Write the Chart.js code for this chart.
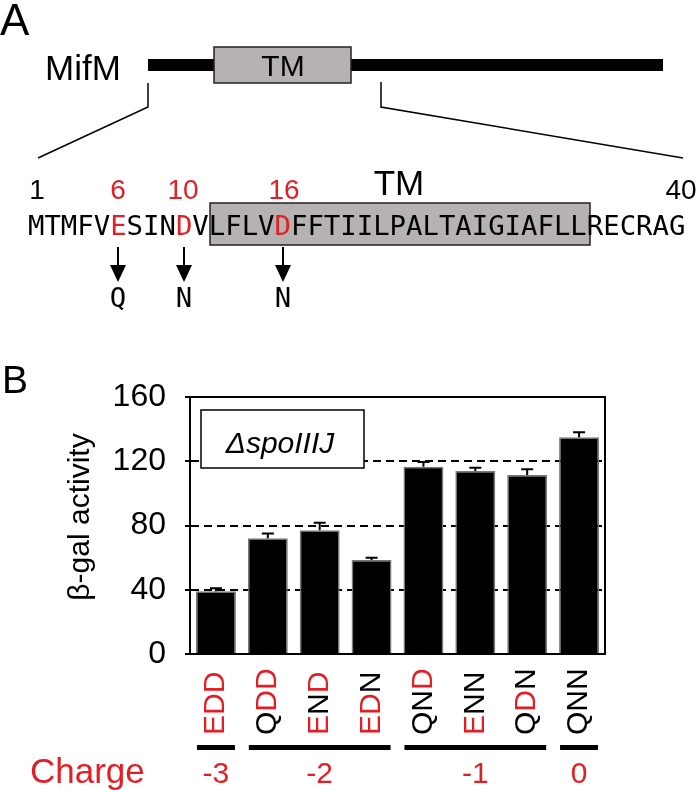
<!DOCTYPE html>
<html>
<head>
<meta charset="utf-8">
<script src="https://cdn.jsdelivr.net/npm/chart.js@4.4.1/dist/chart.umd.min.js"></script>
<style>
  body { margin: 0; background: #fff; }
  #wrap { position: relative; width: 700px; height: 790px; }
  #chart { position: absolute; left: 0; top: 0; }
  #panelA { position: absolute; left: 0; top: 0; pointer-events: none; }
  #panelA text { font-family: 'Liberation Sans', Arial, sans-serif; }
  #panelA .mono { font-family: 'DejaVu Sans Mono', monospace; }
</style>
</head>
<body>
<div id="wrap">
  <canvas id="chart" width="700" height="790"></canvas>
  <svg id="panelA" width="700" height="790" xmlns="http://www.w3.org/2000/svg">
    <text x="0" y="35" font-size="44">A</text>
    <text x="45" y="80" font-size="35">MifM</text>
    <rect x="148" y="59" width="515" height="12" fill="#000"/>
    <rect x="214" y="47" width="137" height="36" fill="#b6b2b2" stroke="#222" stroke-width="1.5"/>
    <text x="283" y="76" font-size="30" text-anchor="middle">TM</text>
    <polyline points="148,83 148,107 38,158" fill="none" stroke="#000" stroke-width="1.5"/>
    <polyline points="381,82 381,107 683,158" fill="none" stroke="#000" stroke-width="1.5"/>

    <text x="37" y="199" font-size="28" text-anchor="middle">1</text>
    <text x="118" y="199" font-size="28" text-anchor="middle" fill="#e21f26">6</text>
    <text x="183" y="199" font-size="28" text-anchor="middle" fill="#e21f26">10</text>
    <text x="284" y="199" font-size="28" text-anchor="middle" fill="#e21f26">16</text>
    <text x="399" y="195" font-size="35" text-anchor="middle">TM</text>
    <text x="681" y="199" font-size="28" text-anchor="middle">40</text>

    <rect x="210" y="203" width="380" height="42" fill="#b6b2b2" stroke="#222" stroke-width="1.5"/>
    <text class="mono" x="28" y="235" font-size="27.3">MTMFV<tspan fill="#e21f26">E</tspan>SIN<tspan fill="#e21f26">D</tspan>VLFLV<tspan fill="#e21f26">D</tspan>FFTIILPALTAIGIAFLLRECRAG</text>

    <g stroke="#000" stroke-width="2">
      <line x1="118" y1="247" x2="118" y2="268"/>
      <line x1="184" y1="247" x2="184" y2="268"/>
      <line x1="283" y1="247" x2="283" y2="268"/>
    </g>
    <polygon points="110,265 126,265 118,282" fill="#000"/>
    <polygon points="176,265 192,265 184,282" fill="#000"/>
    <polygon points="275,265 291,265 283,282" fill="#000"/>
    <text class="mono" x="118" y="307" font-size="27.3" text-anchor="middle">Q</text>
    <text class="mono" x="184" y="307" font-size="27.3" text-anchor="middle">N</text>
    <text class="mono" x="283" y="307" font-size="27.3" text-anchor="middle">N</text>

    <text x="2" y="393" font-size="39">B</text>
  </svg>
</div>
<script>
const categories = ['EDD', 'QDD', 'END', 'EDN', 'QND', 'ENN', 'QDN', 'QNN'];
const activity = [39, 72, 77, 58.5, 116.5, 114, 111.5, 135];
const errorUp = [1.9, 3, 4.7, 1.5, 3.1, 2, 3.5, 3.1];
const yTicks = [0, 40, 80, 120, 160];
const chargeLabels = ['-3', '-2', '-1', '0'];
const chargeFirst = [0, 1, 4, 7];
const chargeLast = [0, 3, 6, 7];

const RED = '#e21f26';
const FONT = "'Liberation Sans', Arial, sans-serif";
Chart.defaults.font.family = FONT;
Chart.defaults.color = '#000';

// frame, legend box, error bars, labels under the axis
const extras = {
  id: 'extras',
  beforeDatasetsDraw(chart) {
    const ctx = chart.ctx;
    ctx.save();
    // box with strain name (covers the 120 grid line)
    ctx.fillStyle = '#fff';
    ctx.fillRect(201, 410, 163, 58);
    ctx.strokeStyle = '#000';
    ctx.lineWidth = 1.5;
    ctx.strokeRect(201, 410, 163, 58);
    ctx.fillStyle = '#000';
    ctx.font = 'italic 30px ' + FONT;
    ctx.textAlign = 'center';
    ctx.textBaseline = 'middle';
    ctx.fillText('\u0394spoIIIJ', 280, 445);
    ctx.restore();
  },
  afterDraw(chart) {
    const ctx = chart.ctx;
    const area = chart.chartArea;
    const x = chart.scales.x;
    const y = chart.scales.y;
    ctx.save();

    // top + right of the frame
    ctx.strokeStyle = '#000';
    ctx.lineWidth = 2;
    ctx.beginPath();
    ctx.moveTo(area.left, area.top);
    ctx.lineTo(area.right, area.top);
    ctx.lineTo(area.right, area.bottom);
    ctx.stroke();

    // error bars (upper half only)
    ctx.lineWidth = 2;
    activity.forEach((v, i) => {
      const px = x.getPixelForValue(i);
      const y0 = y.getPixelForValue(v);
      const y1 = y.getPixelForValue(v + errorUp[i]);
      ctx.beginPath();
      ctx.moveTo(px, y0);
      ctx.lineTo(px, y1);
      ctx.moveTo(px - 6, y1);
      ctx.lineTo(px + 6, y1);
      ctx.stroke();
    });

    // y title
    ctx.fillStyle = '#000';
    ctx.font = '30px ' + FONT;
    ctx.textAlign = 'center';
    ctx.textBaseline = 'middle';
    ctx.save();
    ctx.translate(81, 517);
    ctx.rotate(-Math.PI / 2);
    ctx.fillText('\u03b2-gal activity', 0, 0);
    ctx.restore();

    // rotated category labels, E and D in red
    ctx.font = '30px ' + FONT;
    ctx.textAlign = 'left';
    categories.forEach((lab, i) => {
      const px = x.getPixelForValue(i);
      ctx.save();
      ctx.translate(px, 735);
      ctx.rotate(-Math.PI / 2);
      let off = 0;
      for (const ch of lab) {
        ctx.fillStyle = (ch === 'E' || ch === 'D') ? RED : '#000';
        ctx.fillText(ch, off, 0);
        off += ctx.measureText(ch).width;
      }
      ctx.restore();
    });

    // charge groups
    ctx.lineWidth = 5;
    ctx.strokeStyle = '#000';
    ctx.fillStyle = RED;
    ctx.font = '30px ' + FONT;
    ctx.textAlign = 'center';
    ctx.textBaseline = 'alphabetic';
    chargeLabels.forEach((lab, g) => {
      const xa = x.getPixelForValue(chargeFirst[g]);
      const xb = x.getPixelForValue(chargeLast[g]);
      ctx.beginPath();
      ctx.moveTo(xa - 19, 747.5);
      ctx.lineTo(xb + 19, 747.5);
      ctx.stroke();
      ctx.fillText(lab, (xa + xb) / 2, 783);
    });
    ctx.textAlign = 'left';
    ctx.font = '35px ' + FONT;
    ctx.fillText('Charge', 30, 783);
    ctx.restore();
  }
};

new Chart(document.getElementById('chart'), {
  type: 'bar',
  data: {
    labels: categories,
    datasets: [{
      data: activity,
      backgroundColor: '#000',
      borderColor: '#777',
      borderWidth: 1.5,
      barPercentage: 0.77,
      categoryPercentage: 1
    }]
  },
  options: {
    responsive: false,
    animation: false,
    layout: { padding: { left: 0, right: 95, top: 397, bottom: 136 } },
    plugins: { legend: { display: false }, tooltip: { enabled: false } },
    scales: {
      x: {
        grid: { display: false, drawTicks: false },
        ticks: { display: false },
        border: { color: '#000', width: 2 },
        afterFit: s => { s.height = 0; }
      },
      y: {
        min: 0,
        max: 160,
        afterBuildTicks: s => { s.ticks = yTicks.map(v => ({ value: v })); },
        afterFit: s => { s.width = 190; },
        ticks: { font: { size: 32 }, color: '#000', padding: 19 },
        grid: {
          color: c => (c.tick && (c.tick.value === 0 || c.tick.value === 160)) ? 'rgba(0,0,0,0)' : '#000',
          lineWidth: 2,
          tickColor: '#000',
          tickLength: 5,
          tickWidth: 2,
          tickBorderDash: []
        },
        border: { color: '#000', width: 2, dash: [8, 5] }
      }
    }
  },
  plugins: [extras]
});
</script>
</body>
</html>
